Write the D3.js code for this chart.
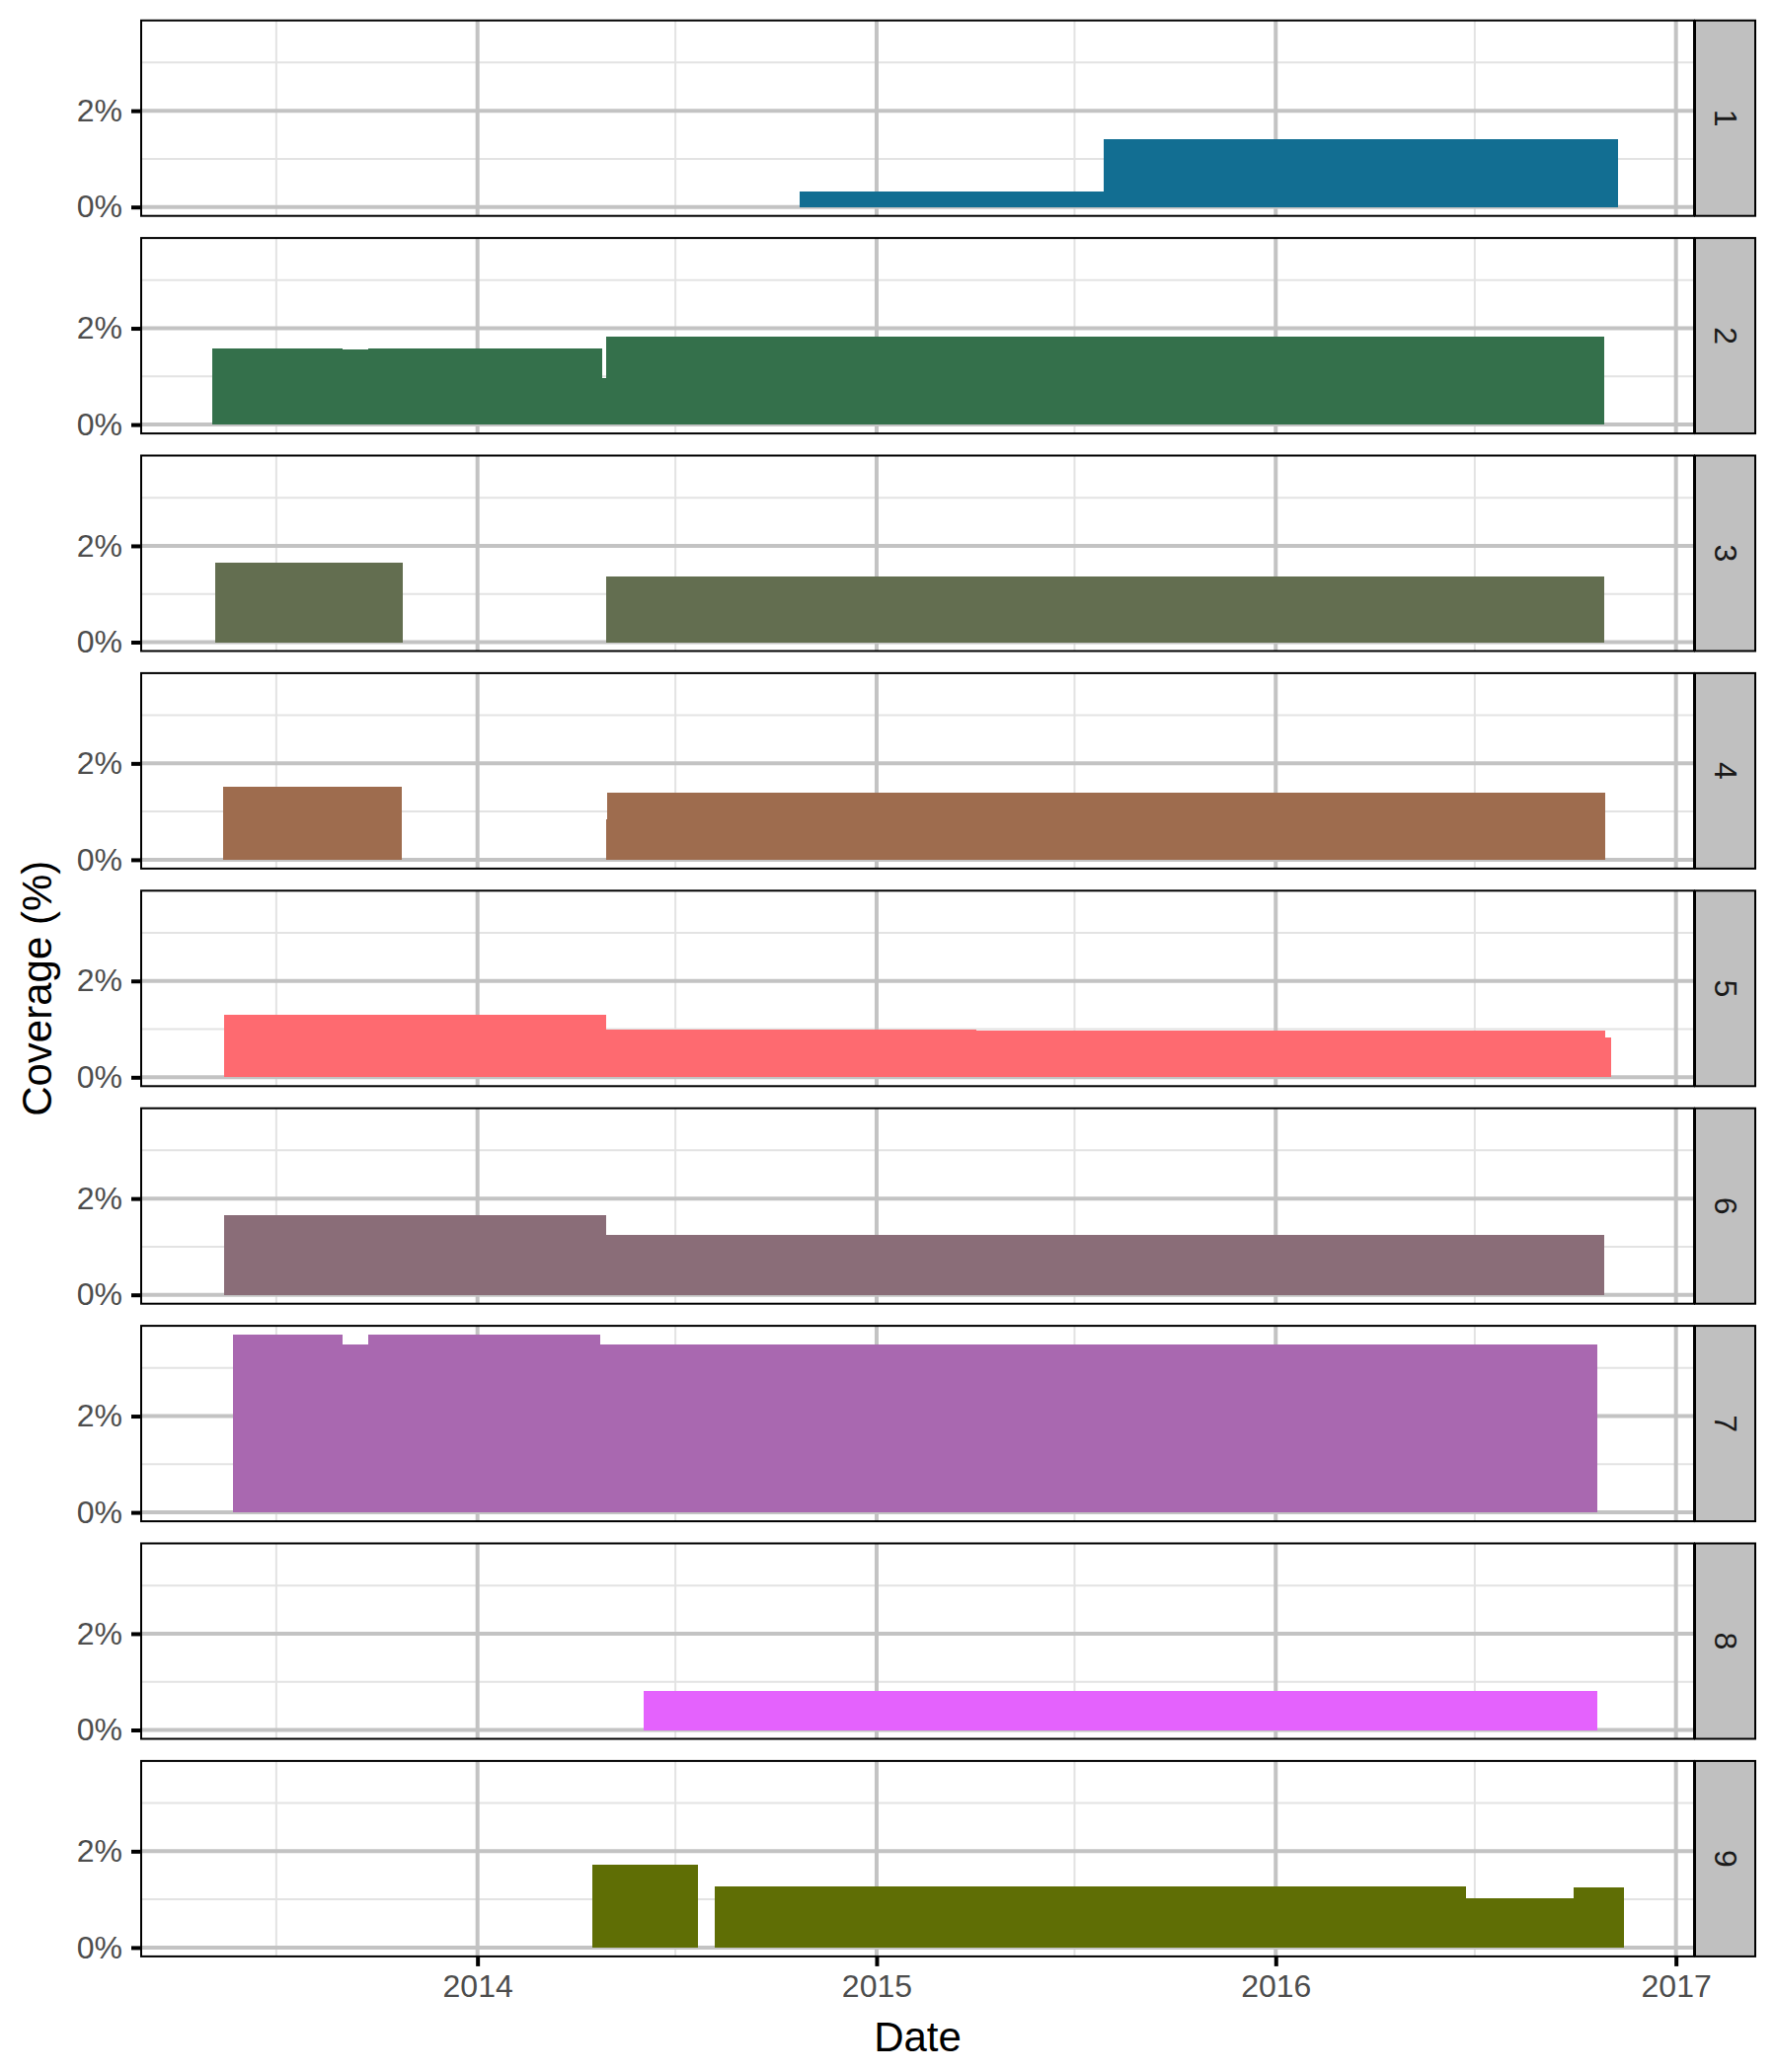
<!DOCTYPE html>
<html>
<head>
<meta charset="utf-8">
<script src="https://cdn.jsdelivr.net/npm/d3@7"></script>
<style>
  html, body { margin: 0; padding: 0; background: #ffffff; }
  svg { display: block; }
</style>
</head>
<body>
<div id="chart"></div>
<script>
// ---------- DATA ----------
const facets = ["1", "2", "3", "4", "5", "6", "7", "8", "9"];
const facetColors = ["#126e92", "#34704b", "#636e50", "#9e6c4e", "#fe6a70", "#8a6d78", "#a968b0", "#e462fd", "#5f6e05"];

// coverage segments (facet, start date, end date, coverage %)
const segFacet = ["1", "1",
                  "2", "2", "2", "2", "2",
                  "3", "3",
                  "4", "4", "4",
                  "5", "5", "5", "5",
                  "6", "6",
                  "7", "7", "7", "7",
                  "8",
                  "9", "9", "9", "9"];
const segStart = ["2014-10-23", "2015-07-28",
                  "2013-05-03", "2013-08-31", "2013-09-23", "2014-04-25", "2014-04-29",
                  "2013-05-06", "2014-04-29",
                  "2013-05-13", "2014-04-29", "2014-04-30",
                  "2013-05-14", "2014-04-29", "2015-04-02", "2016-10-28",
                  "2013-05-14", "2014-04-29",
                  "2013-05-22", "2013-08-31", "2013-09-23", "2014-04-23",
                  "2014-06-02",
                  "2014-04-16", "2014-08-06", "2016-06-23", "2016-09-29"];
const segEnd   = ["2015-07-28", "2016-11-09",
                  "2013-08-31", "2013-09-23", "2014-04-25", "2014-04-29", "2016-10-27",
                  "2013-10-25", "2016-10-27",
                  "2013-10-24", "2014-04-30", "2016-10-28",
                  "2014-04-29", "2015-04-02", "2016-10-28", "2016-11-03",
                  "2014-04-29", "2016-10-27",
                  "2013-08-31", "2013-09-23", "2014-04-23", "2016-10-21",
                  "2016-10-21",
                  "2014-07-22", "2016-06-23", "2016-09-29", "2016-11-14"];
const segValue = [0.33, 1.40,
                  1.58, 1.56, 1.58, 0.97, 1.83,
                  1.66, 1.37,
                  1.51, 0.84, 1.39,
                  1.29, 0.98, 0.96, 0.83,
                  1.66, 1.24,
                  3.69, 3.49, 3.69, 3.49,
                  0.82,
                  1.72, 1.27, 1.03, 1.25];

const xMajorTicks = ["2014-01-01", "2015-01-01", "2016-01-01", "2017-01-01"];
const xMajorLabels = ["2014", "2015", "2016", "2017"];
const xMinorTicks = ["2013-07-01", "2014-07-01", "2015-07-01", "2016-07-01"];
const yMajorTicks = [0, 2];
const yMajorLabels = ["0%", "2%"];
const yMinorTicks = [1, 3];

const xTitle = "Date";
const yTitle = "Coverage (%)";

// ---------- LAYOUT ----------
const W = 1799, H = 2099;
const panelLeft = 143, panelRight = 1716;
const stripW = 61;
const panelTop0 = 20.7, panelH = 198, panelGap = 22.4;
const fontMain = "'Liberation Sans', Arial, Helvetica, sans-serif";

const parse = d3.utcParse("%Y-%m-%d");
const segs = segFacet.map((f, i) => ({
  facet: f, start: parse(segStart[i]), end: parse(segEnd[i]), value: segValue[i]
}));

// x scale: data range expanded by 5% each side
const xMin = d3.min(segs, d => d.start), xMax = d3.max(segs, d => d.end);
const xPad = (xMax - xMin) * 0.05;
const x = d3.scaleUtc()
  .domain([new Date(+xMin - xPad), new Date(+xMax + xPad)])
  .range([panelLeft, panelRight]);

// y scale (shared): [0, max] expanded 5%
const yMaxV = d3.max(segs, d => d.value);
const yPad = yMaxV * 0.05;
const y = d3.scaleLinear().domain([0 - yPad, yMaxV + yPad]).range([panelH, 0]);

const svg = d3.select("#chart").append("svg")
  .attr("width", W).attr("height", H)
  .attr("viewBox", `0 0 ${W} ${H}`);

svg.append("rect").attr("width", W).attr("height", H).attr("fill", "#ffffff");

const panelW = panelRight - panelLeft;

facets.forEach((f, i) => {
  const top = panelTop0 + i * (panelH + panelGap);
  const g = svg.append("g").attr("transform", `translate(0,${top})`);

  // panel background
  g.append("rect").attr("x", panelLeft).attr("y", 0)
    .attr("width", panelW).attr("height", panelH).attr("fill", "#ffffff");

  // minor gridlines
  g.selectAll(".ymin").data(yMinorTicks).join("line")
    .attr("x1", panelLeft).attr("x2", panelRight)
    .attr("y1", d => y(d)).attr("y2", d => y(d))
    .attr("stroke", "#e3e3e3").attr("stroke-width", 2);
  g.selectAll(".xmin").data(xMinorTicks).join("line")
    .attr("x1", d => x(parse(d))).attr("x2", d => x(parse(d)))
    .attr("y1", 0).attr("y2", panelH)
    .attr("stroke", "#e3e3e3").attr("stroke-width", 2);

  // major gridlines
  g.selectAll(".ymaj").data(yMajorTicks).join("line")
    .attr("x1", panelLeft).attr("x2", panelRight)
    .attr("y1", d => y(d)).attr("y2", d => y(d))
    .attr("stroke", "#c3c3c3").attr("stroke-width", 4);
  g.selectAll(".xmaj").data(xMajorTicks).join("line")
    .attr("x1", d => x(parse(d))).attr("x2", d => x(parse(d)))
    .attr("y1", 0).attr("y2", panelH)
    .attr("stroke", "#c3c3c3").attr("stroke-width", 4);

  // bars (rectangles for coverage periods)
  g.selectAll(".seg").data(segs.filter(s => s.facet === f)).join("rect")
    .attr("x", d => x(d.start))
    .attr("width", d => Math.max(0.5, x(d.end) - x(d.start)))
    .attr("y", d => y(d.value))
    .attr("height", d => y(0) - y(d.value))
    .attr("fill", facetColors[i])
    .attr("shape-rendering", "crispEdges");

  // panel border
  g.append("rect").attr("x", panelLeft).attr("y", 0)
    .attr("width", panelW).attr("height", panelH)
    .attr("fill", "none").attr("stroke", "#000000").attr("stroke-width", 2);

  // y axis
  const yAxis = d3.axisLeft(y).tickValues(yMajorTicks)
    .tickFormat((d, k) => yMajorLabels[k]).tickSize(10).tickPadding(9);
  const ya = g.append("g").attr("transform", `translate(${panelLeft},0)`).call(yAxis);
  ya.select(".domain").remove();
  ya.selectAll(".tick line").attr("stroke", "#000000").attr("stroke-width", 4).attr("x2", -10);
  ya.selectAll(".tick text").attr("fill", "#4d4d4d")
    .style("font-family", fontMain).style("font-size", "32px");

  // strip
  g.append("rect").attr("x", panelRight + 1).attr("y", 0)
    .attr("width", stripW).attr("height", panelH)
    .attr("fill", "#c0c0c0").attr("stroke", "#000000").attr("stroke-width", 2);
  g.append("text")
    .attr("transform", `translate(${panelRight + 1 + stripW / 2},${panelH / 2}) rotate(90)`)
    .attr("text-anchor", "middle").attr("dominant-baseline", "central")
    .attr("fill", "#1a1a1a")
    .style("font-family", fontMain).style("font-size", "32px")
    .text(f);

  // x axis on the last panel
  if (i === facets.length - 1) {
    const xAxis = d3.axisBottom(x).tickValues(xMajorTicks.map(parse))
      .tickFormat((d, k) => xMajorLabels[k]).tickSize(10).tickPadding(8);
    const xa = g.append("g").attr("transform", `translate(0,${panelH})`).call(xAxis);
    xa.select(".domain").remove();
    xa.selectAll(".tick line").attr("stroke", "#000000").attr("stroke-width", 4);
    xa.selectAll(".tick text").attr("fill", "#4d4d4d")
      .style("font-family", fontMain).style("font-size", "32px");
  }
});

const panelsBottom = panelTop0 + facets.length * panelH + (facets.length - 1) * panelGap;

// axis titles
svg.append("text")
  .attr("x", (panelLeft + panelRight) / 2).attr("y", 2078)
  .attr("text-anchor", "middle").attr("fill", "#000000")
  .style("font-family", fontMain).style("font-size", "42px")
  .text(xTitle);

svg.append("text")
  .attr("transform", `translate(52,${(panelTop0 + panelsBottom) / 2}) rotate(-90)`)
  .attr("text-anchor", "middle").attr("fill", "#000000")
  .style("font-family", fontMain).style("font-size", "42px")
  .text(yTitle);
</script>
</body>
</html>
